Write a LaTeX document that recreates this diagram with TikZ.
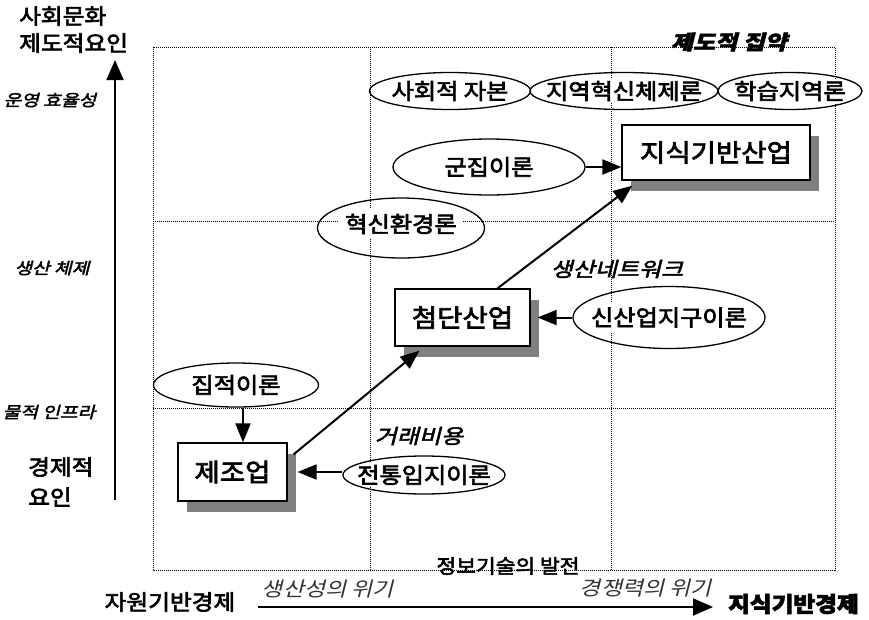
\documentclass[tikz,border=0pt]{standalone}
\usepackage{fontspec}
\setmainfont{Noto Sans CJK KR}[FakeStretch=1.1, FakeBold=3]
\newfontfamily\kit{Noto Sans CJK KR}[FakeSlant=0.25, FakeStretch=1.2, FakeBold=2.5]
\newfontfamily\kitlight{Noto Sans CJK KR}[FakeSlant=0.25, FakeStretch=1.15]
\usetikzlibrary{arrows.meta,shadows,shapes.geometric,calc}
\begin{document}
\begin{tikzpicture}[x=1pt,y=-1pt,
  gridline/.style={line width=0.9pt, dash pattern=on 1pt off 1pt},
  conn/.style={line width=2pt, -{Triangle[length=19pt,width=15pt]}},
  axisarrow/.style={line width=2pt, -{Triangle[length=20pt,width=17pt]}},
  ell/.style={draw, ellipse, line width=1.3pt, inner sep=0pt},
  ebg/.style={fill=white, inner sep=2pt, font=\fontsize{22}{24}\selectfont},
  boxnode/.style={draw, line width=1.3pt, fill=white, inner sep=0pt,
    font=\fontsize{25}{30}\selectfont,
    drop shadow={shadow xshift=9pt, shadow yshift=-11pt, fill=black!50, opacity=1}},
  axlabel/.style={inner sep=0pt, font=\fontsize{21.5}{24}\selectfont},
  itlabel/.style={inner sep=0pt, font=\kit\fontsize{20}{24}\selectfont},
  lightit/.style={inner sep=0pt, text=black!80, font=\kitlight\fontsize{20}{24}\selectfont},
  smit/.style={inner sep=0pt, font=\kit\fontsize{16}{20}\selectfont}]
\useasboundingbox (0,0) rectangle (869,619);

% grid
\draw[gridline] (153,47) rectangle (835,570);
\draw[gridline] (370,47) -- (370,570);
\draw[gridline] (611,47) -- (611,570);
\draw[gridline] (153,221) -- (835,221);
\draw[gridline] (153,408) -- (835,408);

% axes
\coordinate (ybot) at (115,500);
\coordinate (ytop) at (115,60);
\coordinate (xl) at (258,607);
\coordinate (xr) at (713,607);
\draw[axisarrow] (ybot) -- (ytop);
\draw[axisarrow] (xl) -- (xr);

% axis labels
\node[axlabel, anchor=west] (t1) at (19,16) {사회문화};
\node[axlabel, anchor=west] (t2) at (19,43) {제도적요인};
\node[axlabel, anchor=west] (t3) at (28,467) {경제적};
\node[axlabel, anchor=west] (t4) at (28,497) {요인};
\node[axlabel] (t5) at (170,602) {자원기반경제};
\node[axlabel, anchor=west, font=\bfseries\fontsize{21.5}{24}\selectfont] (t6) at (728,604) {지식기반경제};

\node[smit] (l1) at (50,100) {운영 효율성};
\node[smit] (l2) at (52,268) {생산 체제};
\node[smit] (l3) at (49,412) {물적 인프라};

\node[lightit] (c1) at (328,589) {생산성의 위기};
\node[lightit] (c2) at (646,588) {경쟁력의 위기};
\node[inner sep=0pt, font=\fontsize{19.5}{22}\selectfont] (it) at (508,566) {정보기술의 발전};
\node[itlabel, font=\kit\bfseries\fontsize{20}{24}\selectfont] (ic) at (729,42) {제도적 집약};
\node[itlabel] (pn) at (617,269) {생산네트워크};
\node[itlabel] (tc) at (419,436) {거래비용};

% white text backgrounds of ellipses
\node[ebg] at (450,91) {사회적 자본};
\node[ebg] at (624,91) {지역혁신체제론};
\node[ebg] at (790,91) {학습지역론};
\node[ebg] at (489,167) {군집이론};
\node[ebg, inner xsep=6pt, inner ysep=5pt] at (401,224) {혁신환경론};
\node[ebg, inner ysep=5pt] at (669,317.5) {신산업지구이론};
\node[ebg] at (236,385) {집적이론};
\node[ebg] at (424,475) {전통입지이론};

% ellipses
\node[ell, minimum width=161pt, minimum height=37pt] (soc) at (450,91) {};
\node[ell, minimum width=188pt, minimum height=37pt] (ris) at (624,91) {};
\node[ell, minimum width=144pt, minimum height=37pt] (lr) at (790,91) {};
\node[ell, minimum width=192pt, minimum height=56pt] (clu) at (489,167) {};
\node[ell, minimum width=167pt, minimum height=60pt] (mil) at (401,228) {};
\node[ell, minimum width=192pt, minimum height=62pt] (nid) at (669,317.5) {};
\node[ell, minimum width=165pt, minimum height=44pt] (agg) at (236,385) {};
\node[ell, minimum width=162pt, minimum height=38pt] (trad) at (424,475) {};

% boxes
\node[boxnode, minimum width=188pt, minimum height=55pt] (kb) at (716,152.5) {지식기반산업};
\node[boxnode, minimum width=135pt, minimum height=57pt] (hi) at (462.5,317.5) {첨단산업};
\node[boxnode, minimum width=109pt, minimum height=58pt] (mfg) at (232.5,472) {제조업};

% connectors
\draw[conn] ([xshift=7pt]agg.south) -- ([xshift=10.5pt]mfg.north);
\draw[conn] (trad.west |- mfg.east) -- ([xshift=10pt]mfg.east);
\draw[conn] (nid.west) -- ([xshift=7pt]hi.east);
\draw[conn] (clu.east) -- (clu.east -| kb.west);
\draw[conn] ($(mfg.north east)+(6,12)$) -- ($(hi.south west)+(25,4)$);
\draw[conn] ($(hi.north)+(35,0)$) -- ($(kb.south west)+(11,5)$);
\end{tikzpicture}
\end{document}
